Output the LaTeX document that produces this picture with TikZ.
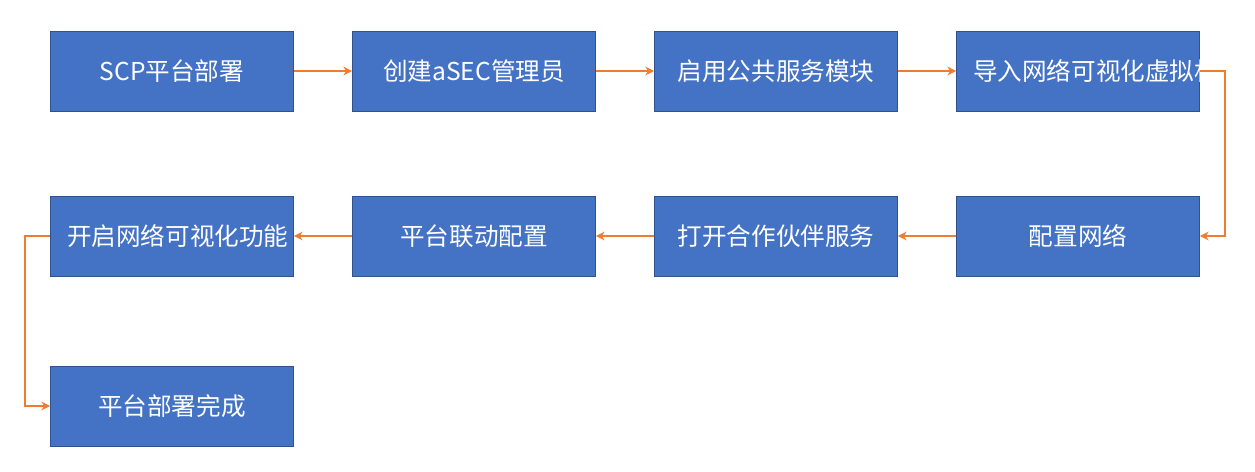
\documentclass[tikz,border=0pt]{standalone}
\usepackage{fontspec}
\setmainfont{Noto Sans CJK SC}
\usetikzlibrary{arrows.meta}
\definecolor{boxblue}{HTML}{4472C4}
\definecolor{boxline}{HTML}{2F528F}
\definecolor{arrorange}{HTML}{ED7D31}
\begin{document}
\begin{tikzpicture}[
		box_style/.style={rectangle,draw=boxline,fill=boxblue,text=white,minimum width=4.86cm,minimum height=1.6cm,text width=4.2cm,align=center,font=\fontsize{14}{17}\selectfont,inner sep=0pt},
		edge_style/.style={draw=arrorange,line width=0.8pt,-{Stealth[length=5pt,width=5pt]}}]
		\useasboundingbox (0,0) rectangle (25.1,9.44);

		\node[box_style] (n0) at (3.44,8.02)  {SCP平台部署};
		\node[box_style] (n1) at (9.48,8.02)  {创建aSEC管理员};
		\node[box_style] (n2) at (15.52,8.02) {启用公共服务模块};
		\node[box_style] (n3) at (21.56,8.02) {导入网络可视化虚拟机};
		\node[box_style] (n4) at (21.56,4.72) {配置网络};
		\node[box_style] (n5) at (15.52,4.72) {打开合作伙伴服务};
		\node[box_style] (n6) at (9.48,4.72)  {平台联动配置};
		\node[box_style] (n7) at (3.44,4.72)  {开启网络可视化功能};
		\node[box_style] (n8) at (3.44,1.32)  {平台部署完成};

		\draw[edge_style] (n0) -- (n1);
		\draw[edge_style] (n1) -- (n2);
		\draw[edge_style] (n2) -- (n3);
		\draw[edge_style] (n3.east) -- ++(0.5,0) |- (n4.east);
		\draw[edge_style] (n4) -- (n5);
		\draw[edge_style] (n5) -- (n6);
		\draw[edge_style] (n6) -- (n7);
		\draw[edge_style] (n7.west) -- ++(-0.5,0) |- (n8.west);
\end{tikzpicture}
\end{document}
